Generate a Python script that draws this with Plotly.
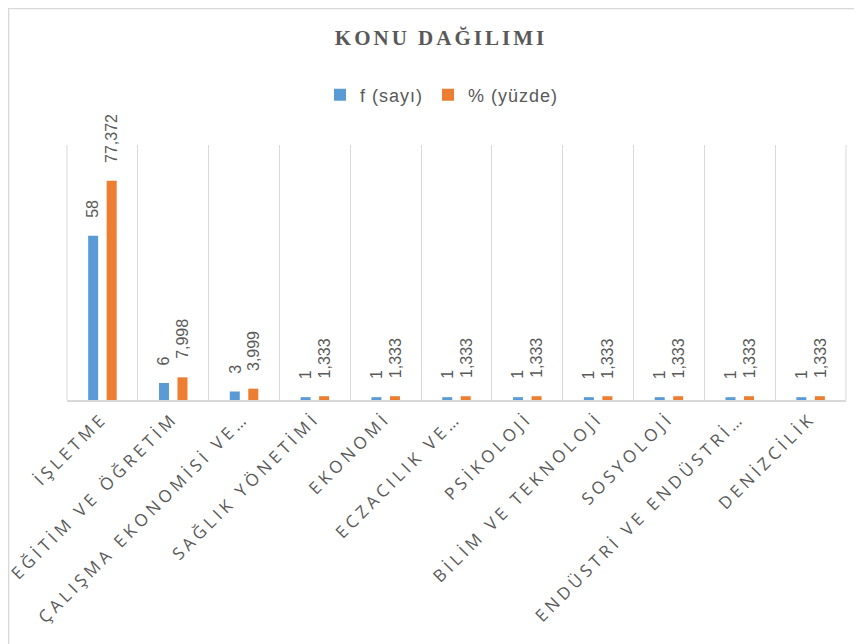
import plotly.graph_objects as go

categories = ["İŞLETME", "EĞİTİM VE ÖĞRETİM", "ÇALIŞMA EKONOMİSİ VE…", "SAĞLIK YÖNETİMİ",
              "EKONOMİ", "ECZACILIK VE…", "PSİKOLOJİ", "BİLİM VE TEKNOLOJİ",
              "SOSYOLOJİ", "ENDÜSTRİ VE ENDÜSTRİ…", "DENİZCİLİK"]
f_values = [58, 6, 3, 1, 1, 1, 1, 1, 1, 1, 1]
pct_values = [77.372, 7.998, 3.999, 1.333, 1.333, 1.333, 1.333, 1.333, 1.333, 1.333, 1.333]
series_names = ["f (sayı)", "% (yüzde)"]
colors = ["#5B9BD5", "#ED7D31"]

def fmt(v):
    s = ("%.3f" % v).rstrip("0").rstrip(".")
    return s.replace(".", ",")

OFF = 8  # page body margin
W, H = 862 - OFF, 644 - OFF
L, R, T, B = 67 - OFF, 16, 145 - OFF, 244
GRAY = "#595959"
GRID = "#d9d9d9"

fig = go.Figure()
for name, vals, col in zip(series_names, [f_values, pct_values], colors):
    fig.add_trace(go.Bar(x=categories, y=vals,
                         name='<span style="letter-spacing:1px">%s</span>' % name,
                         marker_color=col, marker_line_width=0, hoverinfo="skip"))

# data labels
for i, cat in enumerate(categories):
    for vals, shift in [(f_values, -9.3), (pct_values, 9.3)]:
        fig.add_annotation(x=cat, y=vals[i], xref="x", yref="y", text=fmt(vals[i]),
                           showarrow=False, textangle=-90, xshift=shift, yshift=16,
                           yanchor="bottom", xanchor="center",
                           font=dict(family="Liberation Sans", size=16, color=GRAY))

pw = W - L - R
ph = H - T - B
# chart border (left/top visible)
fig.add_shape(type="rect", xref="paper", yref="paper",
              x0=(0.6 - L) / pw, x1=(W + 20 - L) / pw,
              y0=(H - B - (H + 20)) / ph, y1=(H - B - 0.6) / ph,
              line=dict(color=GRID, width=1.5), fillcolor="rgba(0,0,0,0)",
              layer="above")
# plot-area edge gridlines
for xp in (0, 1):
    fig.add_shape(type="line", xref="paper", yref="paper", x0=xp, x1=xp, y0=0, y1=1,
                  line=dict(color=GRID, width=1), layer="below")

ticktext = ['<span style="letter-spacing:4px">%s</span>' % c for c in categories]

fig.update_layout(
    width=W, height=H,
    margin=dict(l=L, r=R, t=T, b=B, autoexpand=False),
    paper_bgcolor="white", plot_bgcolor="white",
    barmode="group", bargap=0.477, bargroupgap=0.46,
    title=dict(text='<span style="letter-spacing:3px">KONU DAĞILIMI</span>',
               x=(441 - OFF) / W, xanchor="center", y=1 - (38 - OFF) / H, yanchor="middle",
               xref="container", yref="container",
               font=dict(family="Liberation Serif", size=21, color=GRAY, weight="bold")),
    legend=dict(orientation="h", x=(442 - OFF) / W, xanchor="center", y=1 - (95 - OFF) / H,
                yanchor="middle", xref="container", yref="container",
                font=dict(family="Liberation Sans", size=18, color=GRAY),
                itemwidth=30, tracegroupgap=0, bgcolor="rgba(0,0,0,0)"),
    xaxis=dict(tickangle=-45, showgrid=True, gridcolor=GRID, gridwidth=1,
               tickson="boundaries", ticks="", showline=True, linecolor=GRID,
               linewidth=1.5, range=[-0.5, 10.5], fixedrange=True,
               tickmode="array", tickvals=categories, ticktext=ticktext,
               tickfont=dict(family="Open Sans", size=17, color=GRAY)),
    yaxis=dict(range=[0, 90], visible=False, showgrid=False, fixedrange=True),
    showlegend=True,
)
fig.write_html("out.html")
